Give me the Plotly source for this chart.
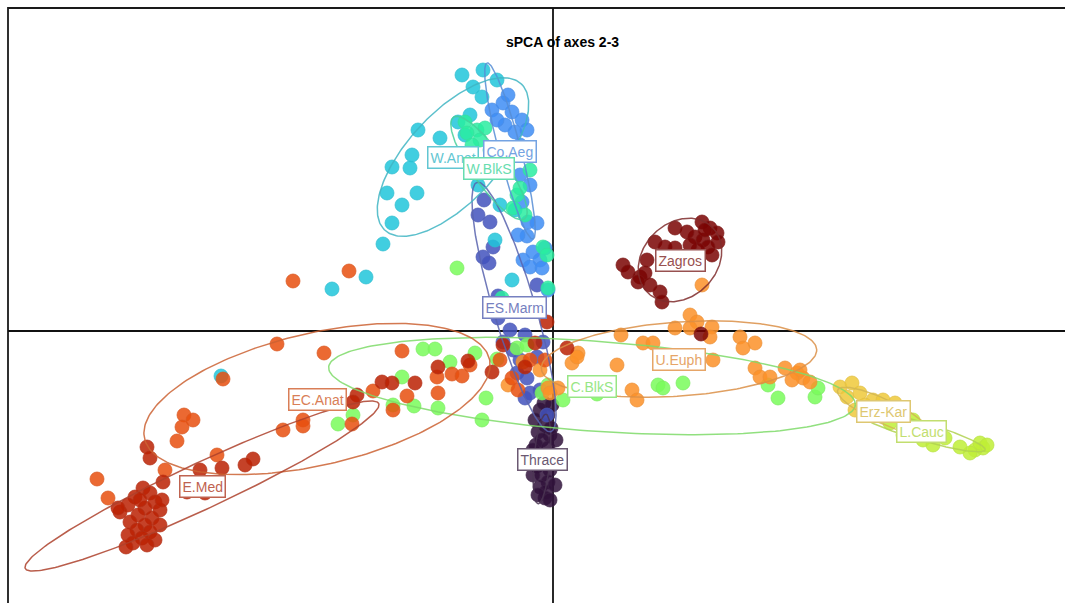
import numpy as np
import plotly.graph_objects as go
from plotly.colors import sample_colorscale

# ---- sPCA scores (axis 2 = x, axis 3 = y) by population ----
groups = ["Thrace", "ES.Marm", "Co.Aeg", "W.Anat", "W.BlkS", "C.BlkS",
          "L.Cauc", "Erz-Kar", "U.Euph", "EC.Anat", "E.Med", "Zagros"]

thrace_x = [-0.13, -0.05, -0.08, -0.15, -0.03, -0.11, -0.17, -0.05, -0.13, 0.00, -0.08,
            -0.16, -0.03, -0.11, -0.05, -0.13, -0.07, -0.08, -0.02, -0.18, -0.09, -0.01,
            -0.20, 0.03, -0.20, 0.02, -0.15, -0.03]
thrace_y = [-0.79, -0.84, -0.94, -1.01, -1.04, -1.09, -1.14, -1.17, -1.24, -1.27, -1.31,
            -1.35, -1.39, -1.44, -1.51, -1.56, -1.61, -1.67, -0.97, -0.89, -0.72, -0.74,
            -1.19, -1.09, -1.44, -1.54, -1.64, -1.69]

esmarm_x = [-0.69, -0.75, -0.63, -0.60, -0.70, -0.64, -0.55, -0.55, -0.50, -0.40, -0.33,
            -0.36, -0.26, -0.23, -0.13, -0.06, -0.16, -0.10, -0.43, -0.28, -0.16, -0.28]
esmarm_y = [1.31, 1.16, 1.09, 0.84, 0.74, 0.68, 0.35, 0.13, -0.11, -0.19, -0.29,
            -0.42, -0.47, -0.62, -0.59, -0.84, -0.26, -0.11, 0.01, -0.04, 0.46, -0.67]

coaeg_x = [-0.61, -0.50, -0.41, -0.31, -0.48, -0.38, -0.56, -0.26, -0.33, -0.23, -0.31, -0.25,
           -0.26, -0.35, -0.20, -0.30, -0.13, -0.23, -0.11, -0.16, -0.08, -0.05, -0.33, -0.45]
coaeg_y = [2.21, 2.28, 2.19, 2.11, 2.06, 1.99, 2.11, 2.01, 1.86, 1.46, 1.29, 1.09,
           0.95, 0.96, 0.79, 0.71, 0.71, 0.64, 0.63, 1.08, 0.83, 0.41, 1.56, 2.36]

wanat_x = [-0.91, -0.70, -0.56, -0.80, -0.71, -0.95, -0.83, -1.35, -1.13, -1.41, -1.43, -1.61, -1.66,
           -1.51, -1.36, -1.61, -1.70, -2.21, -1.87, -0.41, -3.32, -0.88, -0.75, -0.53, -0.38, -0.58]
wanat_y = [2.56, 2.61, 2.51, 2.44, 2.34, 2.09, 2.16, 2.01, 1.93, 1.76, 1.63, 1.64, 1.38,
           1.26, 1.38, 1.08, 0.87, 0.42, 0.54, 0.51, -0.45, 1.96, 1.46, 1.26, 1.21, 0.91]

wblks_x = [-0.88, -0.76, -0.86, -0.73, -0.81, -0.68, -0.36, -0.40, -0.28, -0.33, -0.10, -0.06,
           -0.05, -0.51, -0.63, -0.75, -0.23]
wblks_y = [2.09, 2.01, 1.98, 1.91, 1.86, 2.03, 1.36, 1.23, 1.16, 1.43, 0.84, 0.76,
           0.43, 0.33, 1.81, 1.61, 1.61]

cblks_x = [-0.96, -1.30, -1.18, -1.51, -1.03, -0.78, -0.56, -0.67, -1.15, -1.39, -1.60, -2.00, -2.15, -0.71,
           -0.36, -0.11, 0.10, 0.44, 1.05, 1.10, 1.30, 2.15, 2.25, 2.62, 2.65, -0.05, -0.26]
cblks_y = [0.63, -0.18, -0.18, -0.46, -0.31, -0.22, -0.28, -0.67, -0.77, -0.75, -0.74, -0.84, -0.93, -0.89,
           -0.17, -0.62, -0.69, -0.63, -0.54, -0.57, -0.52, -0.54, -0.67, -0.66, -0.57, -0.54, -0.14]

lcauc_x = [3.37, 3.50, 3.60, 3.70, 3.80, 3.92, 4.22, 4.30, 4.27, 4.17, 4.34, 4.07]
lcauc_y = [-0.92, -1.04, -0.89, -1.09, -1.14, -1.07, -1.19, -1.17, -1.12, -1.22, -1.14, -1.16]

erzkar_x = [2.87, 2.99, 2.94, 3.07, 3.20, 3.30, 3.42, 3.12, 3.02, 3.25]
erzkar_y = [-0.56, -0.52, -0.66, -0.62, -0.69, -0.69, -0.72, -0.74, -0.79, -0.81]

ueuph_x = [1.37, 1.44, 1.22, 1.59, 1.57, 1.87, 2.02, 1.90, 0.68, 0.90, 1.00, 0.25, 0.19, 0.64, 1.60, 2.02,
           2.07, 2.17, 2.32, 2.44, 2.50, 2.57, 0.79, 0.84, -0.05, 0.05, 1.49, -0.30, -0.13, -0.45, 0.24,
           -0.03, 2.47, 2.39, 1.37]
ueuph_y = [0.16, 0.09, 0.03, 0.04, -0.06, -0.06, -0.12, -0.17, -0.04, -0.12, -0.12, -0.22, -0.32, -0.34,
           -0.29, -0.37, -0.46, -0.46, -0.37, -0.42, -0.47, -0.51, -0.59, -0.69, -0.57, -0.57, 0.46, -0.31,
           -0.39, -0.54, -0.26, -0.62, -0.39, -0.49, 0.03]

ecanat_x = [-2.76, -2.29, -1.51, -1.80, -1.46, -1.60, -1.16, -1.15, -1.01, -0.91, -2.50, -2.50, -2.01,
            -2.70, -3.30, -3.69, -3.60, -3.71, -3.76, -3.36, -4.56, -4.45, -3.88, -0.53, -0.41, -0.23,
            -0.08, -0.35, -0.83, -2.60, -2.04]
ecanat_y = [-0.13, -0.22, -0.20, -0.60, -0.65, -0.79, -0.46, -0.62, -0.43, -0.45, -0.89, -0.95, -0.93,
            -0.99, -0.48, -0.84, -0.89, -0.96, -1.10, -1.24, -1.48, -1.67, -1.39, -0.29, -0.47, -0.29,
            -0.29, -0.59, -0.34, 0.50, 0.60]

emed_x = [-4.10, -4.03, -4.18, -3.98, -4.25, -4.08, -3.93, -4.33, -4.15, -4.01, -4.23, -4.08, -4.16,
          -4.03, -4.25, -4.11, -3.98, -4.20, -4.06, -4.27, -3.91, -4.35, -4.13, -3.93,
          -4.06, -4.03, -3.90, -3.53, -3.31, -3.08, -3.00, -3.66, -3.48, -1.71, -1.61, -1.38,
          -1.15, -0.85, -0.61, -1.96, -2.00, -0.06, -0.50, -0.18, 0.14, -0.28]
emed_y = [-1.57, -1.62, -1.66, -1.71, -1.74, -1.77, -1.79, -1.81, -1.84, -1.87, -1.91, -1.94, -1.99,
          -2.01, -2.04, -2.07, -2.09, -2.12, -2.14, -2.16, -1.69, -1.77, -1.69, -1.94,
          -1.16, -1.27, -1.51, -1.39, -1.37, -1.34, -1.28, -1.61, -1.62, -0.51, -0.52, -0.52,
          -0.36, -0.30, -0.41, -0.64, -0.71, 0.09, -0.14, -0.12, -0.17, -0.36]

zagros_x = [1.22, 1.49, 1.57, 1.64, 1.65, 1.42, 1.50, 1.55, 1.59, 1.45, 1.02, 1.12, 1.22,
            0.94, 0.70, 0.75, 0.87, 0.92, 0.97, 1.07, 1.09, 0.85, 1.34, 1.48, 1.52, 1.37]
zagros_y = [1.03, 1.09, 1.03, 0.98, 0.89, 0.94, 0.91, 0.84, 0.76, 0.81, 0.89, 0.84, 0.83,
            0.71, 0.66, 0.59, 0.54, 0.58, 0.46, 0.39, 0.29, 0.49, 0.99, -0.03, 1.01, 0.86]

scores_x = [thrace_x, esmarm_x, coaeg_x, wanat_x, wblks_x, cblks_x,
            lcauc_x, erzkar_x, ueuph_x, ecanat_x, emed_x, zagros_x]
scores_y = [thrace_y, esmarm_y, coaeg_y, wanat_y, wblks_y, cblks_y,
            lcauc_y, erzkar_y, ueuph_y, ecanat_y, emed_y, zagros_y]

# ---- inertia ellipses: centre (also label position), semi-axes, rotation in degrees ----
ell_cx = [-0.11, -0.39, -0.43, -1.00, -0.64, 0.39, 3.68, 3.30, 1.26, -2.36, -3.51, 1.27]
ell_cy = [-1.28, 0.24, 1.80, 1.74, 1.63, -0.55, -1.00, -0.80, -0.28, -0.68, -1.55, 0.71]
ell_a = [0.45, 1.30, 0.91, 1.00, 0.62, 2.64, 0.67, 0.50, 1.38, 1.77, 1.95, 0.46]
ell_b = [0.08, 0.21, 0.11, 0.45, 0.17, 0.45, 0.09, 0.12, 0.37, 0.66, 0.23, 0.37]
ell_angle = [85, 106.5, 104.6, 47, 125, -4.1, -16.5, -25, 4, 13, 25, 45]

colors = sample_colorscale("Turbo", [i / (len(groups) - 1) for i in range(len(groups))],
                           colortype="tuple")


def to_rgb(c, alpha=1.0, lighten=0.0, grey=0.0):
    r, g, b = [v * 255 if max(c) <= 1 else v for v in c]
    r, g, b = [v * (1 - grey) + 140 * grey for v in (r, g, b)]
    r, g, b = [v + (255 - v) * lighten for v in (r, g, b)]
    return f"rgba({int(r)},{int(g)},{int(b)},{alpha})"


fig = go.Figure()

# frame and the two principal axes
X0, X1 = -5.53, 5.12
Y0, Y1 = -2.72, 3.31
FRAME_L, FRAME_T = -5.45, 3.23
fig.add_shape(type="rect", x0=FRAME_L, x1=6.0, y0=-3.5, y1=FRAME_T,
              line=dict(color="#1a1a1a", width=1.8), layer="below")
fig.add_shape(type="line", x0=0, x1=0, y0=-3.5, y1=FRAME_T,
              line=dict(color="#111111", width=1.8), layer="below")
fig.add_shape(type="line", x0=FRAME_L, x1=6.0, y0=0, y1=0,
              line=dict(color="#111111", width=1.8), layer="below")

# points
for i, g in enumerate(groups):
    fig.add_trace(go.Scatter(
        x=scores_x[i], y=scores_y[i], mode="markers", name=g,
        marker=dict(size=14, color=to_rgb(colors[i], 0.85),
                    line=dict(width=0.8, color=to_rgb(colors[i], 0.9, grey=0.15))),
        hoverinfo="name"))

# ellipses
t = np.linspace(0, 2 * np.pi, 240)
for i, g in enumerate(groups):
    th = np.deg2rad(ell_angle[i])
    ex = ell_cx[i] + ell_a[i] * np.cos(t) * np.cos(th) - ell_b[i] * np.sin(t) * np.sin(th)
    ey = ell_cy[i] + ell_a[i] * np.cos(t) * np.sin(th) + ell_b[i] * np.sin(t) * np.cos(th)
    fig.add_trace(go.Scatter(
        x=ex, y=ey, mode="lines",
        line=dict(color=to_rgb(colors[i], 0.85, grey=0.3), width=1.5),
        hoverinfo="skip", showlegend=False))

# population labels
for i, g in enumerate(groups):
    col = to_rgb(colors[i], 1.0, lighten=0.2, grey=0.25)
    fig.add_annotation(x=ell_cx[i], y=ell_cy[i], xref="x", yref="y", text=g,
                       xanchor="center", yanchor="middle",
                       showarrow=False, bgcolor="white", bordercolor=col, borderwidth=1.5,
                       borderpad=2, font=dict(family="Liberation Sans, Arial", size=14, color=col))

fig.add_annotation(x=562 / 1065, y=1 - 42 / 603, xref="paper", yref="paper",
                   xanchor="center", yanchor="middle",
                   text="<b>sPCA of axes 2-3</b>", showarrow=False,
                   font=dict(family="Liberation Sans, Arial", size=14, color="black"))

fig.update_layout(
    width=1065, height=603, margin=dict(l=0, r=0, t=0, b=0),
    paper_bgcolor="white", plot_bgcolor="white", showlegend=False,
    xaxis=dict(range=[X0, X1], visible=False, fixedrange=True),
    yaxis=dict(range=[Y0, Y1], visible=False, fixedrange=True),
)

fig.write_html("out.html")
